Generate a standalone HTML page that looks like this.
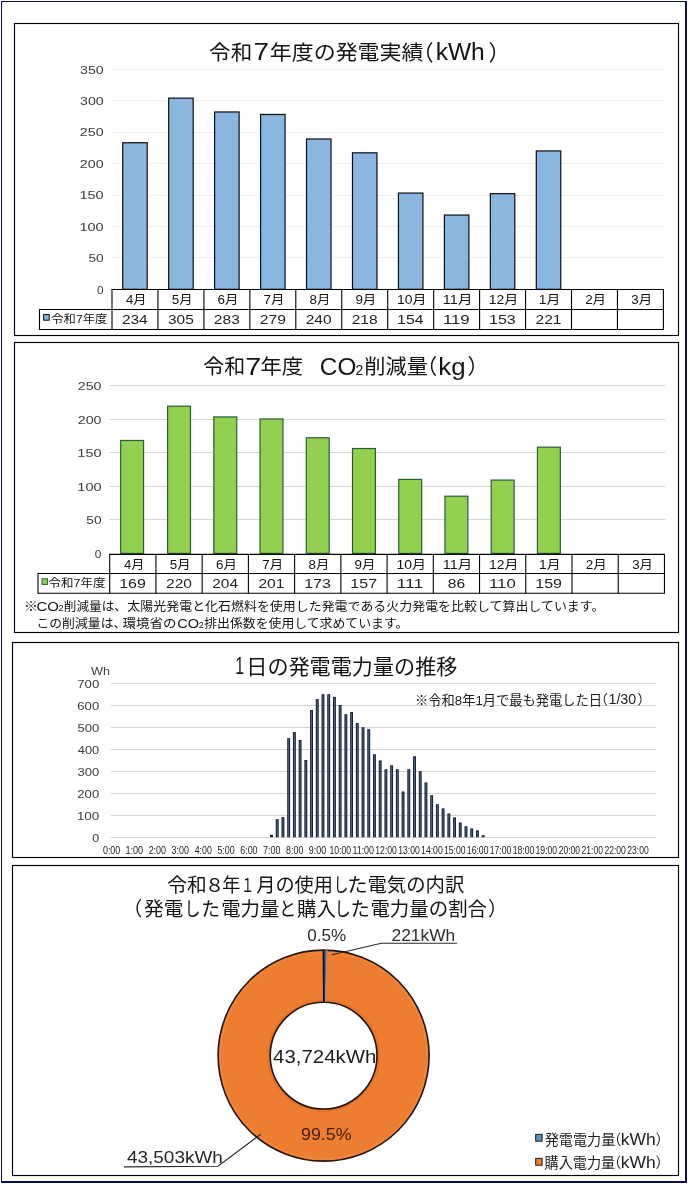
<!DOCTYPE html>
<html lang="ja"><head><meta charset="utf-8"><title>発電実績</title>
<style>
html,body{margin:0;padding:0;background:#fff;}
body{width:689px;height:1187px;overflow:hidden;}
svg{display:block;}
text{font-family:"Liberation Sans","Noto Sans CJK JP",sans-serif;white-space:pre;}
</style></head><body>
<svg width="689" height="1187" viewBox="0 0 689 1187">
<rect x="0" y="0" width="689" height="1187" fill="#ffffff"/>
<rect x="1.00" y="1.00" width="686.00" height="1.00" fill="#0c0c50"/>
<rect x="1.00" y="1.00" width="1.00" height="1182.00" fill="#0c0c50"/>
<rect x="685.00" y="1.00" width="2.00" height="1182.00" fill="#0c0c50"/>
<rect x="1.00" y="1181.00" width="686.00" height="2.00" fill="#0c0c50"/>
<rect x="14.50" y="23.50" width="664.00" height="312.00" fill="#fff" stroke="#000" stroke-width="1.15"/>
<rect x="14.50" y="342.50" width="664.00" height="290.00" fill="#fff" stroke="#000" stroke-width="1.15"/>
<rect x="12.50" y="642.50" width="666.00" height="215.00" fill="#fff" stroke="#000" stroke-width="1.15"/>
<rect x="12.50" y="865.50" width="666.00" height="310.00" fill="#fff" stroke="#000" stroke-width="1.15"/>
<line x1="111.70" y1="257.50" x2="665.00" y2="257.50" stroke="#efefef" stroke-width="1.00"/>
<line x1="111.70" y1="226.50" x2="665.00" y2="226.50" stroke="#efefef" stroke-width="1.00"/>
<line x1="111.70" y1="195.50" x2="665.00" y2="195.50" stroke="#efefef" stroke-width="1.00"/>
<line x1="111.70" y1="163.50" x2="665.00" y2="163.50" stroke="#efefef" stroke-width="1.00"/>
<line x1="111.70" y1="132.50" x2="665.00" y2="132.50" stroke="#efefef" stroke-width="1.00"/>
<line x1="111.70" y1="100.50" x2="665.00" y2="100.50" stroke="#efefef" stroke-width="1.00"/>
<line x1="111.70" y1="69.50" x2="665.00" y2="69.50" stroke="#efefef" stroke-width="1.00"/>
<text x="96.92" y="293.55" font-size="11.80" fill="#3c3c3c" textLength="6.61" lengthAdjust="spacingAndGlyphs">0</text>
<text x="88.45" y="262.12" font-size="11.80" fill="#3c3c3c" textLength="15.23" lengthAdjust="spacingAndGlyphs">50</text>
<text x="79.44" y="230.69" font-size="11.80" fill="#3c3c3c" textLength="24.22" lengthAdjust="spacingAndGlyphs">100</text>
<text x="79.44" y="199.26" font-size="11.80" fill="#3c3c3c" textLength="24.22" lengthAdjust="spacingAndGlyphs">150</text>
<text x="79.89" y="167.83" font-size="11.80" fill="#3c3c3c" textLength="23.76" lengthAdjust="spacingAndGlyphs">200</text>
<text x="79.89" y="136.40" font-size="11.80" fill="#3c3c3c" textLength="23.76" lengthAdjust="spacingAndGlyphs">250</text>
<text x="80.03" y="104.97" font-size="11.80" fill="#3c3c3c" textLength="23.61" lengthAdjust="spacingAndGlyphs">300</text>
<text x="80.03" y="73.54" font-size="11.80" fill="#3c3c3c" textLength="23.61" lengthAdjust="spacingAndGlyphs">350</text>
<rect x="122.72" y="142.76" width="24.50" height="146.54" fill="#8ab6e0" stroke="#0b0e14" stroke-width="1.20"/>
<rect x="168.68" y="98.13" width="24.50" height="191.17" fill="#8ab6e0" stroke="#0b0e14" stroke-width="1.20"/>
<rect x="214.62" y="111.96" width="24.50" height="177.34" fill="#8ab6e0" stroke="#0b0e14" stroke-width="1.20"/>
<rect x="260.58" y="114.47" width="24.50" height="174.83" fill="#8ab6e0" stroke="#0b0e14" stroke-width="1.20"/>
<rect x="306.52" y="138.99" width="24.50" height="150.31" fill="#8ab6e0" stroke="#0b0e14" stroke-width="1.20"/>
<rect x="352.48" y="152.82" width="24.50" height="136.48" fill="#8ab6e0" stroke="#0b0e14" stroke-width="1.20"/>
<rect x="398.43" y="193.05" width="24.50" height="96.25" fill="#8ab6e0" stroke="#0b0e14" stroke-width="1.20"/>
<rect x="444.38" y="215.05" width="24.50" height="74.25" fill="#8ab6e0" stroke="#0b0e14" stroke-width="1.20"/>
<rect x="490.33" y="193.67" width="24.50" height="95.63" fill="#8ab6e0" stroke="#0b0e14" stroke-width="1.20"/>
<rect x="536.28" y="150.93" width="24.50" height="138.37" fill="#8ab6e0" stroke="#0b0e14" stroke-width="1.20"/>
<line x1="112.00" y1="289.50" x2="112.00" y2="329.50" stroke="#000" stroke-width="1.10"/>
<line x1="157.95" y1="289.50" x2="157.95" y2="329.50" stroke="#000" stroke-width="1.10"/>
<line x1="203.90" y1="289.50" x2="203.90" y2="329.50" stroke="#000" stroke-width="1.10"/>
<line x1="249.85" y1="289.50" x2="249.85" y2="329.50" stroke="#000" stroke-width="1.10"/>
<line x1="295.80" y1="289.50" x2="295.80" y2="329.50" stroke="#000" stroke-width="1.10"/>
<line x1="341.75" y1="289.50" x2="341.75" y2="329.50" stroke="#000" stroke-width="1.10"/>
<line x1="387.70" y1="289.50" x2="387.70" y2="329.50" stroke="#000" stroke-width="1.10"/>
<line x1="433.65" y1="289.50" x2="433.65" y2="329.50" stroke="#000" stroke-width="1.10"/>
<line x1="479.60" y1="289.50" x2="479.60" y2="329.50" stroke="#000" stroke-width="1.10"/>
<line x1="525.55" y1="289.50" x2="525.55" y2="329.50" stroke="#000" stroke-width="1.10"/>
<line x1="571.50" y1="289.50" x2="571.50" y2="329.50" stroke="#000" stroke-width="1.10"/>
<line x1="617.45" y1="289.50" x2="617.45" y2="329.50" stroke="#000" stroke-width="1.10"/>
<line x1="663.40" y1="289.50" x2="663.40" y2="329.50" stroke="#000" stroke-width="1.10"/>
<line x1="111.45" y1="289.50" x2="663.95" y2="289.50" stroke="#000" stroke-width="1.10"/>
<line x1="38.95" y1="309.50" x2="663.95" y2="309.50" stroke="#000" stroke-width="1.10"/>
<line x1="38.95" y1="329.50" x2="663.95" y2="329.50" stroke="#000" stroke-width="1.10"/>
<line x1="39.50" y1="309.50" x2="39.50" y2="329.50" stroke="#000" stroke-width="1.10"/>
<text x="126.06" y="303.70" font-size="12.10" fill="#141414" textLength="20.48" lengthAdjust="spacingAndGlyphs">4月</text>
<text x="171.74" y="303.70" font-size="12.10" fill="#141414" textLength="20.79" lengthAdjust="spacingAndGlyphs">5月</text>
<text x="217.55" y="303.70" font-size="12.10" fill="#141414" textLength="20.95" lengthAdjust="spacingAndGlyphs">6月</text>
<text x="263.50" y="303.70" font-size="12.10" fill="#141414" textLength="20.95" lengthAdjust="spacingAndGlyphs">7月</text>
<text x="309.59" y="303.70" font-size="12.10" fill="#141414" textLength="20.79" lengthAdjust="spacingAndGlyphs">8月</text>
<text x="355.40" y="303.70" font-size="12.10" fill="#141414" textLength="20.95" lengthAdjust="spacingAndGlyphs">9月</text>
<text x="396.96" y="303.70" font-size="12.10" fill="#141414" textLength="29.46" lengthAdjust="spacingAndGlyphs">10月</text>
<text x="442.87" y="303.70" font-size="12.10" fill="#141414" textLength="29.54" lengthAdjust="spacingAndGlyphs">11月</text>
<text x="488.86" y="303.70" font-size="12.10" fill="#141414" textLength="29.46" lengthAdjust="spacingAndGlyphs">12月</text>
<text x="538.77" y="303.70" font-size="12.10" fill="#141414" textLength="21.43" lengthAdjust="spacingAndGlyphs">1月</text>
<text x="585.15" y="303.70" font-size="12.10" fill="#141414" textLength="20.95" lengthAdjust="spacingAndGlyphs">2月</text>
<text x="631.24" y="303.70" font-size="12.10" fill="#141414" textLength="20.79" lengthAdjust="spacingAndGlyphs">3月</text>
<text x="121.90" y="324.00" font-size="13.30" fill="#222" textLength="25.82" lengthAdjust="spacingAndGlyphs">234</text>
<text x="168.01" y="324.00" font-size="13.30" fill="#222" textLength="25.82" lengthAdjust="spacingAndGlyphs">305</text>
<text x="213.79" y="324.00" font-size="13.30" fill="#222" textLength="26.14" lengthAdjust="spacingAndGlyphs">283</text>
<text x="259.74" y="324.00" font-size="13.30" fill="#222" textLength="26.14" lengthAdjust="spacingAndGlyphs">279</text>
<text x="305.70" y="324.00" font-size="13.30" fill="#222" textLength="25.98" lengthAdjust="spacingAndGlyphs">240</text>
<text x="351.65" y="324.00" font-size="13.30" fill="#222" textLength="25.98" lengthAdjust="spacingAndGlyphs">218</text>
<text x="397.11" y="324.00" font-size="13.30" fill="#222" textLength="26.31" lengthAdjust="spacingAndGlyphs">154</text>
<text x="442.99" y="324.00" font-size="13.30" fill="#222" textLength="26.68" lengthAdjust="spacingAndGlyphs">119</text>
<text x="489.00" y="324.00" font-size="13.30" fill="#222" textLength="26.65" lengthAdjust="spacingAndGlyphs">153</text>
<text x="535.44" y="324.00" font-size="13.30" fill="#222" textLength="26.14" lengthAdjust="spacingAndGlyphs">221</text>
<rect x="43.60" y="314.60" width="5.60" height="5.60" fill="#8ab6e0" stroke="#0b0e14" stroke-width="1.00"/>
<text x="51.31" y="323.30" font-size="11.40" fill="#141414" textLength="56.06" lengthAdjust="spacingAndGlyphs">令和7年度</text>
<text x="209.14" y="59.70" font-size="20.80" fill="#141414" textLength="43.23" lengthAdjust="spacingAndGlyphs">令和</text>
<text x="253.41" y="60.40" font-size="24.50" fill="#141414" textLength="15.48" lengthAdjust="spacingAndGlyphs">7</text>
<text x="269.80" y="59.70" font-size="20.80" fill="#141414" textLength="153.68" lengthAdjust="spacingAndGlyphs">年度の発電実績</text>
<text x="412.03" y="60.30" font-size="21.70" fill="#141414">（</text>
<text x="435.68" y="60.30" font-size="23.00" fill="#141414" textLength="49.09" lengthAdjust="spacingAndGlyphs">kWh</text>
<text x="488.62" y="60.30" font-size="21.70" fill="#141414">）</text>
<line x1="109.60" y1="519.50" x2="665.50" y2="519.50" stroke="#d6d6d6" stroke-width="1.00"/>
<line x1="109.60" y1="486.50" x2="665.50" y2="486.50" stroke="#d6d6d6" stroke-width="1.00"/>
<line x1="109.60" y1="452.50" x2="665.50" y2="452.50" stroke="#d6d6d6" stroke-width="1.00"/>
<line x1="109.60" y1="419.50" x2="665.50" y2="419.50" stroke="#d6d6d6" stroke-width="1.00"/>
<line x1="109.60" y1="385.50" x2="665.50" y2="385.50" stroke="#d6d6d6" stroke-width="1.00"/>
<text x="94.83" y="557.95" font-size="11.80" fill="#3c3c3c" textLength="6.61" lengthAdjust="spacingAndGlyphs">0</text>
<text x="86.35" y="524.37" font-size="11.80" fill="#3c3c3c" textLength="15.23" lengthAdjust="spacingAndGlyphs">50</text>
<text x="77.34" y="490.79" font-size="11.80" fill="#3c3c3c" textLength="24.22" lengthAdjust="spacingAndGlyphs">100</text>
<text x="77.34" y="457.21" font-size="11.80" fill="#3c3c3c" textLength="24.22" lengthAdjust="spacingAndGlyphs">150</text>
<text x="77.79" y="423.63" font-size="11.80" fill="#3c3c3c" textLength="23.76" lengthAdjust="spacingAndGlyphs">200</text>
<text x="77.79" y="390.05" font-size="11.80" fill="#3c3c3c" textLength="23.76" lengthAdjust="spacingAndGlyphs">250</text>
<rect x="120.67" y="440.45" width="22.90" height="112.95" fill="#92d050" stroke="#2a5e3a" stroke-width="1.20"/>
<rect x="167.60" y="406.20" width="22.90" height="147.20" fill="#92d050" stroke="#2a5e3a" stroke-width="1.20"/>
<rect x="213.82" y="416.94" width="22.90" height="136.46" fill="#92d050" stroke="#2a5e3a" stroke-width="1.20"/>
<rect x="260.06" y="418.96" width="22.90" height="134.44" fill="#92d050" stroke="#2a5e3a" stroke-width="1.20"/>
<rect x="306.29" y="437.76" width="22.90" height="115.64" fill="#92d050" stroke="#2a5e3a" stroke-width="1.20"/>
<rect x="352.51" y="448.51" width="22.90" height="104.89" fill="#92d050" stroke="#2a5e3a" stroke-width="1.20"/>
<rect x="398.75" y="479.40" width="22.90" height="74.00" fill="#92d050" stroke="#2a5e3a" stroke-width="1.20"/>
<rect x="444.97" y="496.19" width="22.90" height="57.21" fill="#92d050" stroke="#2a5e3a" stroke-width="1.20"/>
<rect x="491.20" y="480.07" width="22.90" height="73.33" fill="#92d050" stroke="#2a5e3a" stroke-width="1.20"/>
<rect x="537.43" y="447.17" width="22.90" height="106.23" fill="#92d050" stroke="#2a5e3a" stroke-width="1.20"/>
<line x1="109.70" y1="554.40" x2="109.70" y2="593.30" stroke="#000" stroke-width="1.10"/>
<line x1="155.93" y1="554.40" x2="155.93" y2="593.30" stroke="#000" stroke-width="1.10"/>
<line x1="202.16" y1="554.40" x2="202.16" y2="593.30" stroke="#000" stroke-width="1.10"/>
<line x1="248.39" y1="554.40" x2="248.39" y2="593.30" stroke="#000" stroke-width="1.10"/>
<line x1="294.62" y1="554.40" x2="294.62" y2="593.30" stroke="#000" stroke-width="1.10"/>
<line x1="340.85" y1="554.40" x2="340.85" y2="593.30" stroke="#000" stroke-width="1.10"/>
<line x1="387.08" y1="554.40" x2="387.08" y2="593.30" stroke="#000" stroke-width="1.10"/>
<line x1="433.31" y1="554.40" x2="433.31" y2="593.30" stroke="#000" stroke-width="1.10"/>
<line x1="479.54" y1="554.40" x2="479.54" y2="593.30" stroke="#000" stroke-width="1.10"/>
<line x1="525.77" y1="554.40" x2="525.77" y2="593.30" stroke="#000" stroke-width="1.10"/>
<line x1="572.00" y1="554.40" x2="572.00" y2="593.30" stroke="#000" stroke-width="1.10"/>
<line x1="618.23" y1="554.40" x2="618.23" y2="593.30" stroke="#000" stroke-width="1.10"/>
<line x1="664.46" y1="554.40" x2="664.46" y2="593.30" stroke="#000" stroke-width="1.10"/>
<line x1="109.15" y1="554.40" x2="665.01" y2="554.40" stroke="#000" stroke-width="1.10"/>
<line x1="37.45" y1="573.50" x2="665.01" y2="573.50" stroke="#000" stroke-width="1.10"/>
<line x1="37.45" y1="593.30" x2="665.01" y2="593.30" stroke="#000" stroke-width="1.10"/>
<line x1="38.00" y1="573.50" x2="38.00" y2="593.30" stroke="#000" stroke-width="1.10"/>
<text x="123.90" y="568.60" font-size="12.10" fill="#141414" textLength="20.48" lengthAdjust="spacingAndGlyphs">4月</text>
<text x="169.86" y="568.60" font-size="12.10" fill="#141414" textLength="20.79" lengthAdjust="spacingAndGlyphs">5月</text>
<text x="215.95" y="568.60" font-size="12.10" fill="#141414" textLength="20.95" lengthAdjust="spacingAndGlyphs">6月</text>
<text x="262.18" y="568.60" font-size="12.10" fill="#141414" textLength="20.95" lengthAdjust="spacingAndGlyphs">7月</text>
<text x="308.55" y="568.60" font-size="12.10" fill="#141414" textLength="20.79" lengthAdjust="spacingAndGlyphs">8月</text>
<text x="354.64" y="568.60" font-size="12.10" fill="#141414" textLength="20.95" lengthAdjust="spacingAndGlyphs">9月</text>
<text x="396.48" y="568.60" font-size="12.10" fill="#141414" textLength="29.46" lengthAdjust="spacingAndGlyphs">10月</text>
<text x="442.67" y="568.60" font-size="12.10" fill="#141414" textLength="29.54" lengthAdjust="spacingAndGlyphs">11月</text>
<text x="488.94" y="568.60" font-size="12.10" fill="#141414" textLength="29.46" lengthAdjust="spacingAndGlyphs">12月</text>
<text x="539.13" y="568.60" font-size="12.10" fill="#141414" textLength="21.43" lengthAdjust="spacingAndGlyphs">1月</text>
<text x="585.79" y="568.60" font-size="12.10" fill="#141414" textLength="20.95" lengthAdjust="spacingAndGlyphs">2月</text>
<text x="632.16" y="568.60" font-size="12.10" fill="#141414" textLength="20.79" lengthAdjust="spacingAndGlyphs">3月</text>
<text x="119.24" y="588.00" font-size="13.30" fill="#222" textLength="26.65" lengthAdjust="spacingAndGlyphs">169</text>
<text x="165.97" y="588.00" font-size="13.30" fill="#222" textLength="25.98" lengthAdjust="spacingAndGlyphs">220</text>
<text x="212.20" y="588.00" font-size="13.30" fill="#222" textLength="25.82" lengthAdjust="spacingAndGlyphs">204</text>
<text x="258.42" y="588.00" font-size="13.30" fill="#222" textLength="26.14" lengthAdjust="spacingAndGlyphs">201</text>
<text x="304.16" y="588.00" font-size="13.30" fill="#222" textLength="26.65" lengthAdjust="spacingAndGlyphs">173</text>
<text x="350.39" y="588.00" font-size="13.30" fill="#222" textLength="26.65" lengthAdjust="spacingAndGlyphs">157</text>
<text x="396.48" y="588.00" font-size="13.30" fill="#222" textLength="26.90" lengthAdjust="spacingAndGlyphs">111</text>
<text x="447.75" y="588.00" font-size="13.30" fill="#222" textLength="17.39" lengthAdjust="spacingAndGlyphs">86</text>
<text x="489.02" y="588.00" font-size="13.30" fill="#222" textLength="26.68" lengthAdjust="spacingAndGlyphs">110</text>
<text x="535.31" y="588.00" font-size="13.30" fill="#222" textLength="26.65" lengthAdjust="spacingAndGlyphs">159</text>
<rect x="42.00" y="578.80" width="5.60" height="5.60" fill="#92d050" stroke="#2a5e3a" stroke-width="1.00"/>
<text x="48.50" y="587.30" font-size="11.40" fill="#141414" textLength="56.88" lengthAdjust="spacingAndGlyphs">令和7年度</text>
<text x="203.26" y="373.80" font-size="20.80" fill="#141414" textLength="42.04" lengthAdjust="spacingAndGlyphs">令和</text>
<text x="245.37" y="374.60" font-size="24.50" fill="#141414" textLength="15.96" lengthAdjust="spacingAndGlyphs">7</text>
<text x="260.54" y="373.80" font-size="20.80" fill="#141414" textLength="42.51" lengthAdjust="spacingAndGlyphs">年度</text>
<text x="319.89" y="374.70" font-size="24.00" fill="#141414" textLength="36.43" lengthAdjust="spacingAndGlyphs">CO</text>
<text x="355.59" y="374.50" font-size="14.50" fill="#141414" textLength="7.86" lengthAdjust="spacingAndGlyphs">2</text>
<text x="364.33" y="373.80" font-size="20.80" fill="#141414" textLength="63.62" lengthAdjust="spacingAndGlyphs">削減量</text>
<text x="416.31" y="374.20" font-size="21.00" fill="#141414">（</text>
<text x="438.29" y="374.60" font-size="23.50" fill="#141414" textLength="27.32" lengthAdjust="spacingAndGlyphs">kg</text>
<text x="467.45" y="374.20" font-size="21.00" fill="#141414">）</text>
<text x="23.78" y="611.00" font-size="12.40" fill="#141414" textLength="14.44" lengthAdjust="spacingAndGlyphs">※</text>
<text x="36.46" y="611.00" font-size="13.00" fill="#141414" textLength="22.29" lengthAdjust="spacingAndGlyphs">CO</text>
<text x="58.54" y="611.00" font-size="8.20" fill="#141414" textLength="5.08" lengthAdjust="spacingAndGlyphs">2</text>
<text x="63.84" y="611.00" font-size="12.40" fill="#141414" textLength="63.08" lengthAdjust="spacingAndGlyphs">削減量は、</text>
<text x="127.38" y="611.00" font-size="12.40" fill="#141414" textLength="477.04" lengthAdjust="spacingAndGlyphs">太陽光発電と化石燃料を使用した発電である火力発電を比較して算出しています。</text>
<text x="36.42" y="628.00" font-size="12.40" fill="#141414" textLength="89.97" lengthAdjust="spacingAndGlyphs">この削減量は、</text>
<text x="122.49" y="628.00" font-size="12.40" fill="#141414" textLength="54.02" lengthAdjust="spacingAndGlyphs">環境省の</text>
<text x="177.27" y="628.00" font-size="13.00" fill="#141414" textLength="21.86" lengthAdjust="spacingAndGlyphs">CO</text>
<text x="198.85" y="628.00" font-size="8.20" fill="#141414" textLength="4.96" lengthAdjust="spacingAndGlyphs">2</text>
<text x="204.21" y="628.00" font-size="12.40" fill="#141414" textLength="204.15" lengthAdjust="spacingAndGlyphs">排出係数を使用して求めています。</text>
<line x1="111.00" y1="837.50" x2="656.00" y2="837.50" stroke="#d2d2d2" stroke-width="1.00"/>
<text x="92.20" y="841.50" font-size="11.50" fill="#3c3c3c" textLength="6.95" lengthAdjust="spacingAndGlyphs">0</text>
<line x1="111.00" y1="815.50" x2="656.00" y2="815.50" stroke="#d2d2d2" stroke-width="1.00"/>
<text x="76.93" y="819.50" font-size="11.50" fill="#3c3c3c" textLength="22.28" lengthAdjust="spacingAndGlyphs">100</text>
<line x1="111.00" y1="793.50" x2="656.00" y2="793.50" stroke="#d2d2d2" stroke-width="1.00"/>
<text x="77.34" y="797.50" font-size="11.50" fill="#3c3c3c" textLength="21.86" lengthAdjust="spacingAndGlyphs">200</text>
<line x1="111.00" y1="771.50" x2="656.00" y2="771.50" stroke="#d2d2d2" stroke-width="1.00"/>
<text x="77.48" y="775.50" font-size="11.50" fill="#3c3c3c" textLength="21.72" lengthAdjust="spacingAndGlyphs">300</text>
<line x1="111.00" y1="749.50" x2="656.00" y2="749.50" stroke="#d2d2d2" stroke-width="1.00"/>
<text x="77.74" y="753.50" font-size="11.50" fill="#3c3c3c" textLength="21.45" lengthAdjust="spacingAndGlyphs">400</text>
<line x1="111.00" y1="727.50" x2="656.00" y2="727.50" stroke="#d2d2d2" stroke-width="1.00"/>
<text x="77.48" y="731.50" font-size="11.50" fill="#3c3c3c" textLength="21.72" lengthAdjust="spacingAndGlyphs">500</text>
<line x1="111.00" y1="705.50" x2="656.00" y2="705.50" stroke="#d2d2d2" stroke-width="1.00"/>
<text x="77.34" y="709.50" font-size="11.50" fill="#3c3c3c" textLength="21.86" lengthAdjust="spacingAndGlyphs">600</text>
<line x1="111.00" y1="683.50" x2="656.00" y2="683.50" stroke="#d2d2d2" stroke-width="1.00"/>
<text x="77.34" y="687.50" font-size="11.50" fill="#3c3c3c" textLength="21.86" lengthAdjust="spacingAndGlyphs">700</text>
<text x="91.07" y="674.50" font-size="10.50" fill="#3c3c3c" textLength="18.99" lengthAdjust="spacingAndGlyphs">Wh</text>
<rect x="270.05" y="834.80" width="2.90" height="2.40" fill="#141d33"/>
<rect x="275.77" y="819.18" width="2.90" height="18.02" fill="#141d33"/>
<rect x="276.72" y="820.18" width="1.00" height="17.02" fill="#4c648c"/>
<rect x="281.49" y="817.20" width="2.90" height="20.00" fill="#141d33"/>
<rect x="282.44" y="818.20" width="1.00" height="19.00" fill="#4c648c"/>
<rect x="287.21" y="738.22" width="2.90" height="98.98" fill="#141d33"/>
<rect x="288.16" y="739.22" width="1.00" height="97.98" fill="#4c648c"/>
<rect x="292.93" y="732.06" width="2.90" height="105.14" fill="#141d33"/>
<rect x="293.88" y="733.06" width="1.00" height="104.14" fill="#4c648c"/>
<rect x="298.65" y="739.98" width="2.90" height="97.22" fill="#141d33"/>
<rect x="299.60" y="740.98" width="1.00" height="96.22" fill="#4c648c"/>
<rect x="304.37" y="760.00" width="2.90" height="77.20" fill="#141d33"/>
<rect x="305.32" y="761.00" width="1.00" height="76.20" fill="#4c648c"/>
<rect x="310.09" y="710.06" width="2.90" height="127.14" fill="#141d33"/>
<rect x="311.04" y="711.06" width="1.00" height="126.14" fill="#4c648c"/>
<rect x="315.81" y="699.06" width="2.90" height="138.14" fill="#141d33"/>
<rect x="316.76" y="700.06" width="1.00" height="137.14" fill="#4c648c"/>
<rect x="321.53" y="694.22" width="2.90" height="142.98" fill="#141d33"/>
<rect x="322.48" y="695.22" width="1.00" height="141.98" fill="#4c648c"/>
<rect x="327.25" y="694.22" width="2.90" height="142.98" fill="#141d33"/>
<rect x="328.20" y="695.22" width="1.00" height="141.98" fill="#4c648c"/>
<rect x="332.97" y="696.86" width="2.90" height="140.34" fill="#141d33"/>
<rect x="333.92" y="697.86" width="1.00" height="139.34" fill="#4c648c"/>
<rect x="338.69" y="705.00" width="2.90" height="132.20" fill="#141d33"/>
<rect x="339.64" y="706.00" width="1.00" height="131.20" fill="#4c648c"/>
<rect x="344.41" y="714.24" width="2.90" height="122.96" fill="#141d33"/>
<rect x="345.36" y="715.24" width="1.00" height="121.96" fill="#4c648c"/>
<rect x="350.13" y="712.04" width="2.90" height="125.16" fill="#141d33"/>
<rect x="351.08" y="713.04" width="1.00" height="124.16" fill="#4c648c"/>
<rect x="355.85" y="723.04" width="2.90" height="114.16" fill="#141d33"/>
<rect x="356.80" y="724.04" width="1.00" height="113.16" fill="#4c648c"/>
<rect x="361.57" y="727.22" width="2.90" height="109.98" fill="#141d33"/>
<rect x="362.52" y="728.22" width="1.00" height="108.98" fill="#4c648c"/>
<rect x="367.29" y="729.20" width="2.90" height="108.00" fill="#141d33"/>
<rect x="368.24" y="730.20" width="1.00" height="107.00" fill="#4c648c"/>
<rect x="373.01" y="754.28" width="2.90" height="82.92" fill="#141d33"/>
<rect x="373.96" y="755.28" width="1.00" height="81.92" fill="#4c648c"/>
<rect x="378.73" y="760.44" width="2.90" height="76.76" fill="#141d33"/>
<rect x="379.68" y="761.44" width="1.00" height="75.76" fill="#4c648c"/>
<rect x="384.45" y="769.24" width="2.90" height="67.96" fill="#141d33"/>
<rect x="385.40" y="770.24" width="1.00" height="66.96" fill="#4c648c"/>
<rect x="390.17" y="765.28" width="2.90" height="71.92" fill="#141d33"/>
<rect x="391.12" y="766.28" width="1.00" height="70.92" fill="#4c648c"/>
<rect x="395.89" y="769.24" width="2.90" height="67.96" fill="#141d33"/>
<rect x="396.84" y="770.24" width="1.00" height="66.96" fill="#4c648c"/>
<rect x="401.61" y="791.46" width="2.90" height="45.74" fill="#141d33"/>
<rect x="402.56" y="792.46" width="1.00" height="44.74" fill="#4c648c"/>
<rect x="407.33" y="769.24" width="2.90" height="67.96" fill="#141d33"/>
<rect x="408.28" y="770.24" width="1.00" height="66.96" fill="#4c648c"/>
<rect x="413.05" y="756.26" width="2.90" height="80.94" fill="#141d33"/>
<rect x="414.00" y="757.26" width="1.00" height="79.94" fill="#4c648c"/>
<rect x="418.77" y="771.22" width="2.90" height="65.98" fill="#141d33"/>
<rect x="419.72" y="772.22" width="1.00" height="64.98" fill="#4c648c"/>
<rect x="424.49" y="782.44" width="2.90" height="54.76" fill="#141d33"/>
<rect x="425.44" y="783.44" width="1.00" height="53.76" fill="#4c648c"/>
<rect x="430.21" y="795.20" width="2.90" height="42.00" fill="#141d33"/>
<rect x="431.16" y="796.20" width="1.00" height="41.00" fill="#4c648c"/>
<rect x="435.93" y="804.22" width="2.90" height="32.98" fill="#141d33"/>
<rect x="436.88" y="805.22" width="1.00" height="31.98" fill="#4c648c"/>
<rect x="441.65" y="808.40" width="2.90" height="28.80" fill="#141d33"/>
<rect x="442.60" y="809.40" width="1.00" height="27.80" fill="#4c648c"/>
<rect x="447.37" y="813.46" width="2.90" height="23.74" fill="#141d33"/>
<rect x="448.32" y="814.46" width="1.00" height="22.74" fill="#4c648c"/>
<rect x="453.09" y="817.42" width="2.90" height="19.78" fill="#141d33"/>
<rect x="454.04" y="818.42" width="1.00" height="18.78" fill="#4c648c"/>
<rect x="458.81" y="822.48" width="2.90" height="14.72" fill="#141d33"/>
<rect x="459.76" y="823.48" width="1.00" height="13.72" fill="#4c648c"/>
<rect x="464.53" y="826.22" width="2.90" height="10.98" fill="#141d33"/>
<rect x="465.48" y="827.22" width="1.00" height="9.98" fill="#4c648c"/>
<rect x="470.25" y="828.42" width="2.90" height="8.78" fill="#141d33"/>
<rect x="471.20" y="829.42" width="1.00" height="7.78" fill="#4c648c"/>
<rect x="475.97" y="830.40" width="2.90" height="6.80" fill="#141d33"/>
<rect x="476.92" y="831.40" width="1.00" height="5.80" fill="#4c648c"/>
<rect x="481.69" y="835.24" width="2.90" height="1.96" fill="#141d33"/>
<text x="102.94" y="854.00" font-size="10.20" fill="#222" textLength="17.28" lengthAdjust="spacingAndGlyphs">0:00</text>
<text x="125.46" y="854.00" font-size="10.20" fill="#222" textLength="17.66" lengthAdjust="spacingAndGlyphs">1:00</text>
<text x="148.63" y="854.00" font-size="10.20" fill="#222" textLength="17.37" lengthAdjust="spacingAndGlyphs">2:00</text>
<text x="171.61" y="854.00" font-size="10.20" fill="#222" textLength="17.28" lengthAdjust="spacingAndGlyphs">3:00</text>
<text x="194.68" y="854.00" font-size="10.20" fill="#222" textLength="17.10" lengthAdjust="spacingAndGlyphs">4:00</text>
<text x="217.39" y="854.00" font-size="10.20" fill="#222" textLength="17.28" lengthAdjust="spacingAndGlyphs">5:00</text>
<text x="240.19" y="854.00" font-size="10.20" fill="#222" textLength="17.37" lengthAdjust="spacingAndGlyphs">6:00</text>
<text x="263.08" y="854.00" font-size="10.20" fill="#222" textLength="17.37" lengthAdjust="spacingAndGlyphs">7:00</text>
<text x="286.06" y="854.00" font-size="10.20" fill="#222" textLength="17.28" lengthAdjust="spacingAndGlyphs">8:00</text>
<text x="308.86" y="854.00" font-size="10.20" fill="#222" textLength="17.37" lengthAdjust="spacingAndGlyphs">9:00</text>
<text x="329.51" y="854.00" font-size="10.20" fill="#222" textLength="21.66" lengthAdjust="spacingAndGlyphs">10:00</text>
<text x="352.38" y="854.00" font-size="10.20" fill="#222" textLength="21.65" lengthAdjust="spacingAndGlyphs">11:00</text>
<text x="375.29" y="854.00" font-size="10.20" fill="#222" textLength="21.66" lengthAdjust="spacingAndGlyphs">12:00</text>
<text x="398.18" y="854.00" font-size="10.20" fill="#222" textLength="21.66" lengthAdjust="spacingAndGlyphs">13:00</text>
<text x="421.07" y="854.00" font-size="10.20" fill="#222" textLength="21.66" lengthAdjust="spacingAndGlyphs">14:00</text>
<text x="443.96" y="854.00" font-size="10.20" fill="#222" textLength="21.66" lengthAdjust="spacingAndGlyphs">15:00</text>
<text x="466.85" y="854.00" font-size="10.20" fill="#222" textLength="21.66" lengthAdjust="spacingAndGlyphs">16:00</text>
<text x="489.74" y="854.00" font-size="10.20" fill="#222" textLength="21.66" lengthAdjust="spacingAndGlyphs">17:00</text>
<text x="512.63" y="854.00" font-size="10.20" fill="#222" textLength="21.66" lengthAdjust="spacingAndGlyphs">18:00</text>
<text x="535.52" y="854.00" font-size="10.20" fill="#222" textLength="21.66" lengthAdjust="spacingAndGlyphs">19:00</text>
<text x="558.67" y="854.00" font-size="10.20" fill="#222" textLength="21.39" lengthAdjust="spacingAndGlyphs">20:00</text>
<text x="581.56" y="854.00" font-size="10.20" fill="#222" textLength="21.39" lengthAdjust="spacingAndGlyphs">21:00</text>
<text x="604.45" y="854.00" font-size="10.20" fill="#222" textLength="21.39" lengthAdjust="spacingAndGlyphs">22:00</text>
<text x="627.34" y="854.00" font-size="10.20" fill="#222" textLength="21.39" lengthAdjust="spacingAndGlyphs">23:00</text>
<text x="235.33" y="674.00" font-size="23.50" fill="#141414" textLength="8.80" lengthAdjust="spacingAndGlyphs">1</text>
<text x="246.30" y="673.80" font-size="20.85" fill="#141414" textLength="211.04" lengthAdjust="spacingAndGlyphs">日の発電電力量の推移</text>
<text x="415.05" y="704.60" font-size="13.30" fill="#222" textLength="186.94" lengthAdjust="spacingAndGlyphs">※令和8年1月で最も発電した日</text>
<text x="594.62" y="704.40" font-size="13.30" fill="#222">（</text>
<text x="608.46" y="704.30" font-size="15.30" fill="#222" textLength="27.76" lengthAdjust="spacingAndGlyphs">1/30</text>
<text x="637.44" y="704.40" font-size="13.30" fill="#222">）</text>
<circle cx="323.6" cy="1055.6" r="79.5" fill="none" stroke="#ed7d31" stroke-width="52.1"/>
<circle cx="323.6" cy="1055.6" r="103.7" fill="none" stroke="#f08a44" stroke-width="2.5" opacity="0.55"/>
<circle cx="323.6" cy="1055.6" r="55.2" fill="none" stroke="#dc6f27" stroke-width="2.5" opacity="0.55"/>
<circle cx="323.6" cy="1055.6" r="105.5" fill="none" stroke="#24140a" stroke-width="1.6"/>
<circle cx="323.6" cy="1055.6" r="53.4" fill="none" stroke="#24140a" stroke-width="1.6"/>
<path d="M323.60 950.10 L326.95 950.15 L325.30 1002.23 L323.60 1002.20 Z" fill="#50668a"/>
<line x1="327.15" y1="948.65" x2="325.40" y2="1002.23" stroke="#9aa0aa" stroke-width="0.80"/>
<line x1="323.50" y1="949.80" x2="323.85" y2="1002.60" stroke="#0c0c10" stroke-width="1.70"/>
<polyline points="331.8,954.7 381.4,943.2 457.2,943.2" fill="none" stroke="#2a2a2a" stroke-width="1.15"/>
<polyline points="260.7,1134.3 218,1166.3 124,1166.8" fill="none" stroke="#2a2a2a" stroke-width="1.15"/>
<text x="307.32" y="941.30" font-size="15.80" fill="#2c2c2c" textLength="38.96" lengthAdjust="spacingAndGlyphs">0.5%</text>
<text x="391.53" y="941.00" font-size="15.80" fill="#2c2c2c" textLength="63.66" lengthAdjust="spacingAndGlyphs">221kWh</text>
<text x="273.09" y="1062.80" font-size="17.80" fill="#1c1c1c" textLength="103.31" lengthAdjust="spacingAndGlyphs">43,724kWh</text>
<text x="301.01" y="1139.70" font-size="16.50" fill="#43200d" textLength="50.63" lengthAdjust="spacingAndGlyphs">99.5%</text>
<text x="127.02" y="1163.00" font-size="17.20" fill="#262626" textLength="95.78" lengthAdjust="spacingAndGlyphs">43,503kWh</text>
<text x="167.31" y="891.90" font-size="19.30" fill="#141414" textLength="39.46" lengthAdjust="spacingAndGlyphs">令和</text>
<text x="204.69" y="891.90" font-size="19.30" fill="#141414" textLength="19.62" lengthAdjust="spacingAndGlyphs">８</text>
<text x="222.19" y="891.90" font-size="19.30" fill="#141414" textLength="18.11" lengthAdjust="spacingAndGlyphs">年</text>
<text x="241.08" y="891.90" font-size="19.30" fill="#141414" textLength="13.27" lengthAdjust="spacingAndGlyphs">１</text>
<text x="256.22" y="891.90" font-size="19.30" fill="#141414" textLength="76.79" lengthAdjust="spacingAndGlyphs">月の使用</text>
<text x="333.42" y="891.90" font-size="19.30" fill="#141414" textLength="14.92" lengthAdjust="spacingAndGlyphs">し</text>
<text x="347.36" y="891.90" font-size="19.30" fill="#141414" textLength="20.37" lengthAdjust="spacingAndGlyphs">た</text>
<text x="367.45" y="891.90" font-size="19.30" fill="#141414" textLength="96.83" lengthAdjust="spacingAndGlyphs">電気の内訳</text>
<text x="122.98" y="916.10" font-size="19.30" fill="#141414">（</text>
<text x="144.01" y="916.10" font-size="19.30" fill="#141414" textLength="39.27" lengthAdjust="spacingAndGlyphs">発電</text>
<text x="184.46" y="916.10" font-size="19.30" fill="#141414" textLength="16.00" lengthAdjust="spacingAndGlyphs">し</text>
<text x="201.22" y="916.10" font-size="19.30" fill="#141414" textLength="18.77" lengthAdjust="spacingAndGlyphs">た</text>
<text x="221.15" y="916.10" font-size="19.30" fill="#141414" textLength="58.23" lengthAdjust="spacingAndGlyphs">電力量</text>
<text x="279.06" y="916.10" font-size="19.30" fill="#141414" textLength="17.19" lengthAdjust="spacingAndGlyphs">と</text>
<text x="297.02" y="916.10" font-size="19.30" fill="#141414" textLength="39.06" lengthAdjust="spacingAndGlyphs">購入</text>
<text x="334.39" y="916.10" font-size="19.30" fill="#141414" textLength="16.31" lengthAdjust="spacingAndGlyphs">し</text>
<text x="350.46" y="916.10" font-size="19.30" fill="#141414" textLength="19.38" lengthAdjust="spacingAndGlyphs">た</text>
<text x="370.45" y="916.10" font-size="19.30" fill="#141414" textLength="116.54" lengthAdjust="spacingAndGlyphs">電力量の割合</text>
<text x="488.04" y="916.10" font-size="19.30" fill="#141414">）</text>
<rect x="535.70" y="1134.40" width="6.40" height="6.80" fill="#5b8fc0" stroke="#1a1a1a" stroke-width="1.00"/>
<rect x="535.70" y="1158.40" width="6.40" height="6.80" fill="#ed7d31" stroke="#1a1a1a" stroke-width="1.00"/>
<text x="544.68" y="1144.80" font-size="14.30" fill="#222" textLength="70.59" lengthAdjust="spacingAndGlyphs">発電電力量</text>
<text x="607.03" y="1144.80" font-size="14.30" fill="#222">（</text>
<text x="620.78" y="1144.80" font-size="16.50" fill="#222" textLength="34.87" lengthAdjust="spacingAndGlyphs">kWh</text>
<text x="655.58" y="1144.80" font-size="14.30" fill="#222">）</text>
<text x="544.53" y="1168.30" font-size="14.30" fill="#222" textLength="70.73" lengthAdjust="spacingAndGlyphs">購入電力量</text>
<text x="607.03" y="1168.30" font-size="14.30" fill="#222">（</text>
<text x="620.78" y="1168.30" font-size="16.50" fill="#222" textLength="34.87" lengthAdjust="spacingAndGlyphs">kWh</text>
<text x="655.58" y="1168.30" font-size="14.30" fill="#222">）</text>
</svg>
</body></html>
